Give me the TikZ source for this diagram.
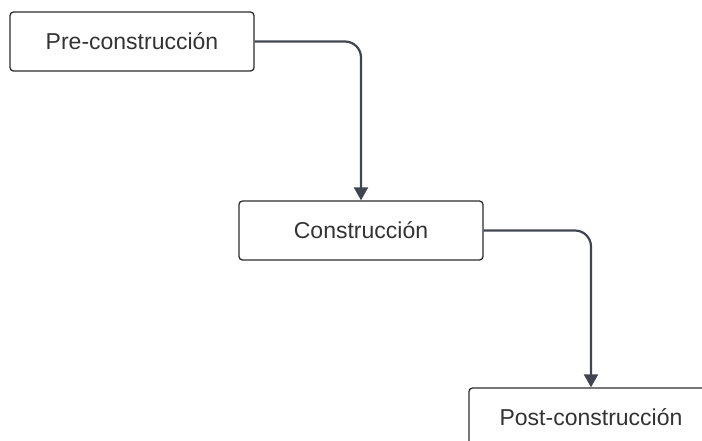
\documentclass[tikz,border=0pt]{standalone}
\usepackage{fontspec}
\setmainfont{Liberation Sans}
\usetikzlibrary{arrows.meta}
\definecolor{edgegray}{HTML}{3F4652}
\definecolor{boxline}{HTML}{2E2E2E}
\definecolor{labeltext}{HTML}{333333}
\tikzset{
  phase/.style={draw=boxline, line width=1.3pt, rounded corners=3.5pt, fill=white,
    minimum width=244pt, minimum height=59pt, inner sep=0pt,
    text=labeltext, font=\fontsize{23}{27}\selectfont},
  flow/.style={draw=edgegray, line width=2.2pt, rounded corners=16pt,
    -{Triangle[width=14pt,length=13pt]}}
}
\begin{document}
\begin{tikzpicture}[x=1pt,y=-1pt]
  \useasboundingbox (0,0) rectangle (702,440);
  \clip (0,0) rectangle (702,440);
  \node[phase] (pre)  at (132,41.5)  {Pre-construcción};
  \node[phase] (con)  at (361,230.5) {Construcción};
  \node[phase] (post) at (591,417.5) {Post-construcción};
  \draw[flow] (pre.east) -| (con.north);
  \draw[flow] (con.east) -| (post.north);
\end{tikzpicture}
\end{document}
